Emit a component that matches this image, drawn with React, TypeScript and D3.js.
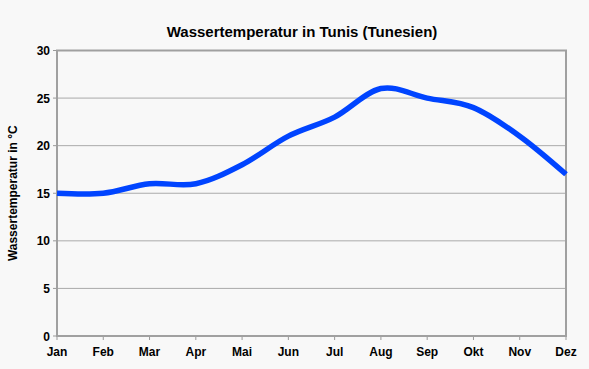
import React from "react";
import * as d3 from "d3";

const months = ["Jan", "Feb", "Mar", "Apr", "Mai", "Jun", "Jul", "Aug", "Sep", "Okt", "Nov", "Dez"];
const temps = [15, 15, 16, 16, 18, 21, 23, 26, 25, 24, 21, 17];
const yTicks = [0, 5, 10, 15, 20, 25, 30];

const W = 589, H = 369;
const L = 57, R = 566, T = 50.5, B = 336;

export default function App() {
  const x = d3.scalePoint<string>().domain(months).range([L, R]);
  const y = d3.scaleLinear().domain([0, 30]).range([B, T]);
  const line = d3
    .line<number>()
    .x((_, i) => x(months[i]) as number)
    .y((d) => y(d))
    .curve(d3.curveCardinal.tension(0));
  const font = "'Liberation Sans', Arial, sans-serif";
  return (
    <div style={{ position: "absolute", left: 0, top: 0 }}>
      <svg width={W} height={H} style={{ display: "block", fontFamily: font }}>
        <rect x={0} y={0} width={W} height={H} fill="#f8f8f8" />
        <text x={302} y={37} textAnchor="middle" fontSize={15} fontWeight="bold" fill="#000">
          Wassertemperatur in Tunis (Tunesien)
        </text>
        {yTicks.map((t) => (
          <g key={t}>
            {t > 0 && t < 30 && (
              <line x1={L} x2={R} y1={y(t)} y2={y(t)} stroke="#aaaaaa" strokeWidth={1} />
            )}
            <line x1={L - 4} x2={L} y1={y(t)} y2={y(t)} stroke="#999" strokeWidth={1} />
            <text x={L - 7} y={y(t) + 4.5} textAnchor="end" fontSize={12} fontWeight="bold" fill="#000">
              {t}
            </text>
          </g>
        ))}
        {months.map((m) => (
          <g key={m}>
            <line x1={x(m)} x2={x(m)} y1={B} y2={B + 4} stroke="#999" strokeWidth={1} />
            <text x={x(m)} y={B + 20} textAnchor="middle" fontSize={12} fontWeight="bold" fill="#000">
              {m}
            </text>
          </g>
        ))}
        <rect x={L} y={T} width={R - L} height={B - T} fill="none" stroke="#a0a0a0" strokeWidth={2} />
        <text
          transform={`translate(17,${(T + B) / 2}) rotate(-90)`}
          textAnchor="middle"
          fontSize={12}
          fontWeight="bold"
          fill="#000"
        >
          Wassertemperatur in °C
        </text>
        <path d={line(temps) || ""} fill="none" stroke="#0044ff" strokeWidth={5.5} strokeLinecap="butt" />
      </svg>
    </div>
  );
}
